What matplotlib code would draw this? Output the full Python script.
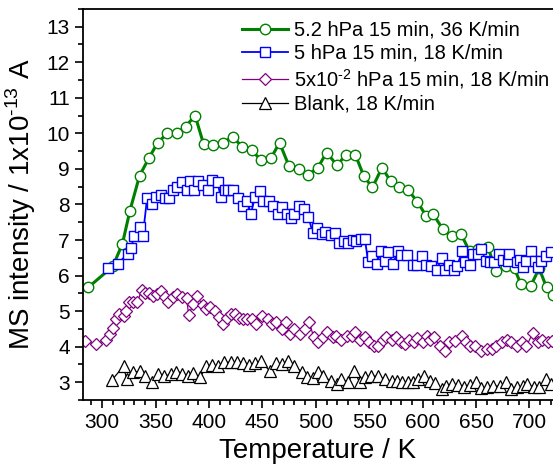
import matplotlib
matplotlib.use('Agg')
import matplotlib.pyplot as plt
from matplotlib.ticker import MultipleLocator

plt.rcParams['font.family'] = ['Liberation Sans', 'DejaVu Sans']
plt.rcParams['mathtext.fontset'] = 'custom'
plt.rcParams['mathtext.rm'] = 'Liberation Sans'

# 5.2 hPa 15 min, 36 K/min
t_green = [287, 310, 319, 326, 335, 344, 352, 361, 370, 378, 387, 395, 404, 413,
           422, 431, 440, 449, 458, 466, 475, 484, 493, 502, 510, 520, 528, 537,
           545, 553, 562, 570, 578, 586, 595, 603, 610, 619, 627, 636, 644, 652,
           661, 669, 678, 686, 692, 701, 709, 716, 722]
i_green = [5.67, 6.26, 6.9, 7.83, 8.81, 9.32, 9.74, 10.0, 10.0, 10.19, 10.5, 9.69,
           9.66, 9.74, 9.9, 9.63, 9.52, 9.24, 9.3, 9.74, 9.07, 9.0, 8.84, 9.04,
           9.46, 9.1, 9.4, 9.4, 8.79, 8.48, 9.04, 8.65, 8.48, 8.42, 8.08, 7.69,
           7.72, 7.3, 7.1, 7.16, 6.68, 6.74, 6.8, 6.12, 6.27, 6.2, 5.75, 5.7,
           6.2, 5.67, 5.45]

# 5 hPa 15 min, 18 K/min
t_blue = [305, 315, 324, 327, 330, 335, 338, 342, 347, 350, 355, 359, 363, 366,
          370, 375, 379, 382, 386, 390, 394, 399, 403, 408, 411, 415, 418, 422,
          427, 432, 436, 439, 443, 448, 451, 456, 460, 465, 468, 473, 477, 480,
          484, 489, 493, 497, 501, 506, 509, 514, 518, 522, 526, 530, 535, 538,
          542, 546, 549, 553, 557, 561, 565, 568, 572, 577, 580, 585, 591, 595,
          599, 603, 608, 613, 618, 621, 625, 629, 632, 637, 640, 644, 647, 652,
          655, 659, 663, 667, 671, 675, 680, 681, 688, 691, 694, 697, 701, 705,
          708, 711, 715, 720]
i_blue = [6.2, 6.34, 6.62, 6.78, 7.1, 7.38, 7.1, 8.17, 8.0, 8.22, 8.28, 8.17,
          8.17, 8.4, 8.48, 8.62, 8.42, 8.65, 8.4, 8.67, 8.56, 8.4, 8.7, 8.62,
          8.2, 8.42, 8.42, 8.4, 8.17, 7.97, 8.1, 7.72, 8.2, 8.37, 8.1, 8.1,
          7.97, 7.72, 7.94, 7.72, 7.63, 7.72, 7.97, 7.86, 7.66, 7.21, 7.35, 7.18,
          7.24, 7.13, 7.21, 6.93, 6.96, 6.93, 6.99, 6.96, 7.04, 7.02, 6.37, 6.54,
          6.34, 6.68, 6.4, 6.65, 6.34, 6.68, 6.57, 6.57, 6.31, 6.31, 6.54, 6.29,
          6.26, 6.17, 6.5, 6.17, 6.31, 6.17, 6.26, 6.68, 6.37, 6.31, 6.6, 6.6,
          6.74, 6.4, 6.37, 6.37, 6.6, 6.45, 6.4, 6.6, 6.37, 6.45, 6.23, 6.4,
          6.68, 6.4, 6.23, 6.4, 6.54, 6.65]

# 5x10^-2 hPa 15 min, 18 K/min
t_purple = [284, 294, 304, 307, 310, 313, 316, 320, 322, 325, 329, 333, 337, 340,
            344, 348, 351, 355, 359, 362, 366, 370, 375, 379, 381, 385, 389, 394,
            397, 401, 406, 409, 413, 417, 421, 424, 428, 432, 436, 440, 444, 450,
            455, 459, 463, 468, 472, 476, 480, 485, 490, 494, 498, 502, 507, 510,
            516, 519, 524, 529, 534, 537, 541, 546, 550, 554, 558, 563, 566, 571,
            575, 580, 583, 587, 592, 595, 600, 604, 607, 611, 616, 621, 625, 630,
            637, 641, 644, 649, 655, 660, 665, 669, 674, 679, 683, 688, 693, 697,
            703, 708, 712, 717, 721]
i_purple = [4.15, 4.07, 4.2, 4.35, 4.54, 4.77, 4.91, 4.85, 5.0, 5.25, 5.27, 5.25,
            5.6, 5.5, 5.5, 5.42, 5.47, 5.56, 5.39, 5.25, 5.39, 5.47, 5.39, 5.36,
            4.88, 5.19, 5.42, 5.16, 5.05, 5.13, 5.0, 4.83, 4.63, 4.8, 4.91, 4.91,
            4.8, 4.77, 4.77, 4.77, 4.63, 4.85, 4.77, 4.63, 4.7, 4.49, 4.69, 4.35,
            4.49, 4.35, 4.49, 4.69, 4.26, 4.12, 4.26, 4.4, 4.26, 4.29, 4.2, 4.29,
            4.29, 4.4, 4.2, 4.26, 4.12, 4.01, 4.01, 4.2, 4.26, 4.2, 4.26, 4.12,
            4.07, 4.2, 4.12, 4.24, 4.12, 4.29, 4.2, 4.26, 4.01, 3.87, 4.12, 4.15,
            4.29, 4.12, 4.01, 4.01, 3.87, 3.93, 3.93, 4.01, 4.12, 4.2, 4.12, 4.01,
            4.12, 4.01, 4.38, 4.12, 4.2, 4.12, 4.15]

# Blank, 18 K/min
t_black = [309, 320, 323, 329, 335, 340, 347, 352, 358, 364, 369, 375, 380, 385,
           392, 397, 403, 408, 414, 421, 426, 432, 437, 443, 449, 457, 463, 468,
           474, 480, 487, 492, 497, 502, 507, 514, 520, 524, 530, 536, 541, 546,
           552, 558, 565, 571, 576, 581, 586, 591, 596, 601, 607, 612, 618, 622,
           627, 633, 639, 644, 650, 655, 660, 666, 672, 678, 683, 688, 694, 698,
           704, 709, 715, 720]
i_black = [3.06, 3.45, 3.08, 3.28, 3.31, 3.17, 3.0, 3.22, 3.17, 3.22, 3.28, 3.22,
           3.17, 3.25, 3.14, 3.45, 3.48, 3.45, 3.56, 3.56, 3.56, 3.53, 3.48, 3.53,
           3.59, 3.31, 3.53, 3.5, 3.59, 3.45, 3.28, 3.14, 3.11, 3.28, 3.17, 3.03,
           2.94, 3.08, 3.0, 3.31, 3.0, 3.14, 3.17, 3.17, 3.08, 3.03, 3.03, 3.0,
           3.0, 3.0, 3.08, 3.17, 3.03, 2.97, 2.8, 2.89, 2.94, 2.92, 2.86, 2.92,
           3.0, 2.83, 2.86, 2.89, 2.89, 3.0, 2.8, 2.86, 2.89, 2.94, 2.86, 2.86,
           3.08, 2.94]

fig = plt.figure(figsize=(5.53, 4.69), dpi=100)
ax = fig.add_axes([0.150, 0.147, 0.850, 0.834])

ax.plot(t_green, i_green, color='#008000', lw=2.2, marker='o', ms=7.5,
        mfc='white', mec='#008000', mew=1.0, label='5.2 hPa 15 min, 36 K/min')
ax.plot(t_blue, i_blue, color='#0000ff', lw=1.3, marker='s', ms=6.8,
        mfc='white', mec='#0000ff', mew=1.0, label='5 hPa 15 min, 18 K/min')
ax.plot(t_purple, i_purple, color='#800080', lw=0.9, marker='D', ms=6.0,
        mfc='white', mec='#800080', mew=0.9,
        label='5x10$^{\\mathrm{\u2010}2}$ hPa 15 min, 18 K/min')
ax.plot(t_black, i_black, color='black', lw=0.9, marker='^', ms=8,
        mfc='white', mec='black', mew=0.9, label='Blank, 18 K/min')

ax.set_xlim(282, 722)
ax.set_ylim(2.5, 13.5)
ax.xaxis.set_major_locator(MultipleLocator(50))
ax.xaxis.set_minor_locator(MultipleLocator(10))
ax.yaxis.set_major_locator(MultipleLocator(1))
ax.yaxis.set_minor_locator(MultipleLocator(0.5))
ax.tick_params(axis='both', which='major', direction='out', length=6, width=1.2,
               labelsize=15, top=False, right=False)
ax.tick_params(axis='both', which='minor', direction='out', length=3.5, width=1.2,
               top=False, right=False)
for s in ['left', 'bottom', 'top']:
    ax.spines[s].set_linewidth(1.3)
ax.spines['right'].set_visible(False)

ax.set_xlabel('Temperature / K', fontsize=20, labelpad=4)
ax.set_ylabel('MS intensity / 1x10$^{\\mathrm{\u2010}13}$ A', fontsize=20, labelpad=6)

ax.legend(loc='upper right', frameon=False, fontsize=14.5, handlelength=2.3,
          handletextpad=0.3, labelspacing=0.2, borderaxespad=0.0,
          bbox_to_anchor=(1.01, 0.99))

fig.savefig('out.png', dpi=100)
